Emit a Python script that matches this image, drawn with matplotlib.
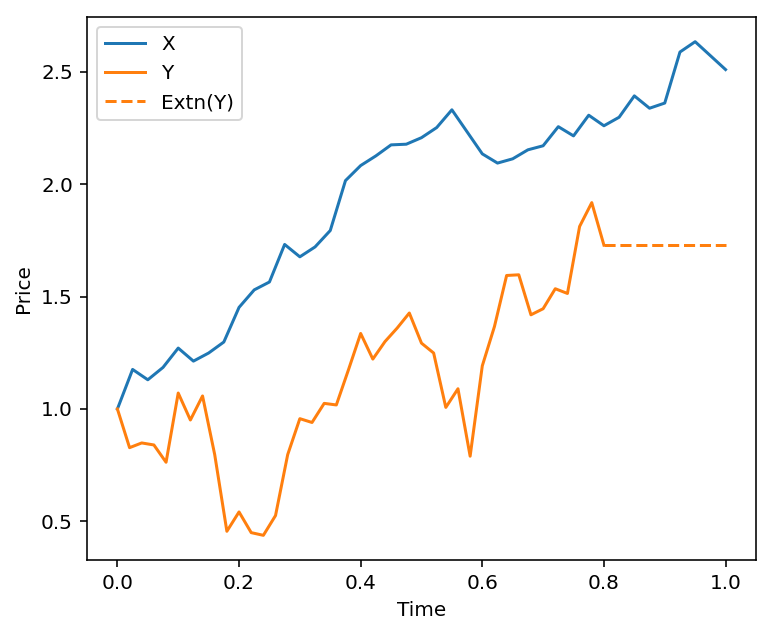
import numpy as np
import matplotlib
matplotlib.use("Agg")
import matplotlib.pyplot as plt

# Price paths
x_prices = [
    1.0, 1.176, 1.13, 1.185, 1.271, 1.213, 1.249, 1.298, 1.452, 1.53,
    1.565, 1.732, 1.677, 1.721, 1.794, 2.016, 2.083, 2.126, 2.175, 2.178,
    2.207, 2.252, 2.331, 2.233, 2.135, 2.094, 2.113, 2.153, 2.171, 2.256,
    2.215, 2.307, 2.26, 2.298, 2.393, 2.338, 2.361, 2.588, 2.634, 2.572,
    2.51,
]
y_prices = [
    1.0, 0.828, 0.849, 0.84, 0.763, 1.071, 0.951, 1.058, 0.797, 0.456,
    0.542, 0.45, 0.438, 0.526, 0.797, 0.957, 0.94, 1.025, 1.018, 1.175,
    1.336, 1.222, 1.30, 1.36, 1.427, 1.293, 1.249, 1.007, 1.09, 0.79,
    1.192, 1.367, 1.594, 1.597, 1.419, 1.446, 1.535, 1.514, 1.812, 1.918,
    1.729,
]
ext_time = [0.8, 1.0]
ext_prices = [1.729, 1.729]

x_time = np.linspace(0, 1, len(x_prices))
y_time = np.linspace(0, 0.8, len(y_prices))

fig = plt.figure(figsize=(774 / 144, 635 / 144), dpi=144)
ax = fig.add_axes([0.1124, 0.1181, 0.8643, 0.8551])
ax.plot(x_time, x_prices, color="C0", lw=1.5, label="X")
ax.plot(y_time, y_prices, color="C1", lw=1.5, label="Y")
ax.plot(ext_time, ext_prices, color="C1", lw=1.5, ls="--", label="Extn(Y)")
ax.set_xlabel("Time")
ax.set_ylabel("Price")
ax.legend(loc="upper left")
fig.savefig("out.png", dpi=144)
